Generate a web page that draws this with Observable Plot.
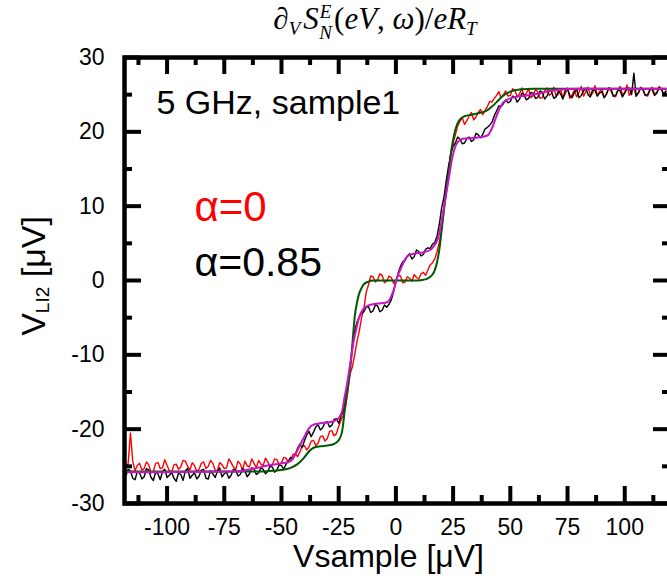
<!DOCTYPE html>
<html><head><meta charset="utf-8">
<script src="https://cdn.jsdelivr.net/npm/d3@7"></script>
<script src="https://cdn.jsdelivr.net/npm/@observablehq/plot@0.6"></script>
<style>
html,body{margin:0;padding:0;background:#fff;overflow:hidden}
#wrap{position:relative;width:667px;height:576px;overflow:hidden;background:#fff}
</style></head><body>
<div id="wrap"><div id="chart"></div></div>
<script>
// measured data (α=0 red, α=0.85 black), sampled Vsample [µV]
const vsample = [
 -118,-117,-116,-115,-114,-113,-112,-111,-110,-109,
 -108,-107,-106,-105,-104,-103,-102,-101,-100,-99,
 -98,-97,-96,-95,-94,-93,-92,-91,-90,-89,
 -88,-87,-86,-85,-84,-83,-82,-81,-80,-79,
 -78,-77,-76,-75,-74,-73,-72,-71,-70,-69,
 -68,-67,-66,-65,-64,-63,-62,-61,-60,-59,
 -58,-57,-56,-55,-54,-53,-52,-51,-50,-49,
 -48,-47,-46,-45,-44,-43,-42,-41,-40,-39,
 -38,-37,-36,-35,-34,-33,-32,-31,-30,-29,
 -28,-27,-26,-25,-24,-23,-22,-21,-20,-19,
 -18,-17,-16,-15,-14,-13,-12,-11,-10,-9,
 -8,-7,-6,-5,-4,-3,-2,-1,0,1,
 2,3,4,5,6,7,8,9,10,11,
 12,13,14,15,16,17,18,19,20,21,
 22,23,24,25,26,27,28,29,30,31,
 32,33,34,35,36,37,38,39,40,41,
 42,43,44,45,46,47,48,49,50,51,
 52,53,54,55,56,57,58,59,60,61,
 62,63,64,65,66,67,68,69,70,71,
 72,73,74,75,76,77,78,79,80,81,
 82,83,84,85,86,87,88,89,90,91,
 92,93,94,95,96,97,98,99,100,101,
 102,103,104,105,106,107,108,109,110,111,
 112,113,114,115,116,117,118];
const alpha0Data = [
 -25.4,-24.6,-20.5,-24.3,-25.6,-24.9,-24.6,-25.5,-25.3,-24.4,
 -24.8,-25.9,-25.7,-24.6,-24.5,-25.3,-25.2,-24.1,-24.9,-25.6,
 -25.8,-24.8,-24.7,-25.4,-25.1,-24.2,-24.3,-25.0,-25.5,-24.5,
 -24.9,-25.7,-25.4,-24.6,-24.4,-25.3,-25.0,-24.2,-24.6,-25.5,
 -25.6,-24.5,-24.8,-25.3,-25.2,-24.0,-24.5,-25.1,-25.4,-24.3,
 -24.7,-25.5,-24.3,-24.9,-25.1,-24.0,-24.6,-25.2,-24.2,-24.7,
 -24.9,-23.9,-24.4,-25.0,-24.8,-24.0,-24.1,-24.8,-24.5,-23.8,
 -23.9,-24.5,-24.2,-23.4,-23.3,-23.7,-23.1,-22.3,-22.2,-22.8,
 -22.4,-21.6,-21.5,-22.2,-21.9,-21.0,-20.9,-21.6,-21.3,-20.3,
 -20.2,-20.9,-20.6,-19.6,-18.8,-18.2,-17.0,-15.0,-12.5,-11.6,
 -10.0,-8.2,-6.8,-5.0,-3.8,-1.6,-0.6,0.6,0.5,-0.2,
 0.1,0.9,0.7,-0.3,-0.1,0.6,0.4,-0.4,0.0,0.7,
 0.6,-0.3,-0.2,0.5,0.3,-0.1,0.8,0.4,0.2,0.9,
 1.1,0.7,1.4,2.1,2.4,2.9,3.9,5.2,6.8,9.6,
 12.0,14.8,17.2,18.5,19.6,20.8,21.4,21.9,21.0,21.5,
 22.1,22.6,21.6,22.0,22.6,23.0,22.3,22.9,23.4,24.1,
 24.0,24.5,24.9,25.4,24.6,25.0,25.5,24.8,24.9,25.8,
 25.6,24.7,25.1,25.9,24.7,25.2,25.8,24.6,24.9,25.7,
 25.4,24.5,24.6,25.5,25.9,24.9,25.2,26.0,24.8,25.1,
 25.7,24.6,25.1,25.9,24.5,25.0,25.6,24.7,25.3,26.1,
 24.8,25.4,26.0,24.9,25.2,26.2,24.9,25.4,25.8,24.6,
 25.0,25.9,25.5,24.8,24.7,25.6,26.1,25.0,25.3,26.3,
 24.9,25.5,25.9,24.8,25.2,26.0,25.7,24.9,24.8,25.6,
 26.0,25.1,25.3,26.1,25.8,25.0,25.4];
const alpha085Data = [
 -26.3,-25.4,-25.6,-26.6,-26.8,-25.7,-25.9,-26.7,-26.4,-25.3,
 -25.5,-26.5,-26.9,-25.8,-26.0,-26.8,-25.7,-25.4,-26.5,-26.2,
 -25.8,-26.6,-27.0,-25.9,-26.1,-26.9,-25.6,-25.3,-26.6,-26.2,
 -25.9,-26.7,-26.3,-25.5,-25.4,-26.6,-26.7,-25.6,-26.0,-26.5,
 -25.7,-25.2,-26.4,-26.0,-25.8,-26.6,-26.2,-25.4,-25.5,-26.3,
 -26.1,-25.3,-25.6,-26.4,-26.0,-25.2,-25.3,-26.1,-25.9,-25.2,
 -25.4,-26.0,-25.7,-25.0,-25.1,-25.8,-25.5,-24.8,-24.9,-25.4,
 -24.7,-24.3,-23.8,-24.0,-23.4,-22.6,-22.0,-22.5,-21.6,-20.8,
 -20.3,-21.0,-20.4,-19.7,-19.4,-20.1,-19.8,-19.1,-19.0,-19.7,
 -19.5,-18.7,-18.6,-19.2,-18.3,-17.6,-16.0,-14.0,-11.5,-9.0,
 -6.8,-5.6,-4.9,-4.4,-4.2,-3.6,-3.5,-4.3,-4.1,-3.3,
 -3.4,-4.2,-4.0,-3.3,-3.6,-3.2,-2.6,-1.5,-0.2,1.0,
 1.9,2.5,2.7,3.3,3.6,2.9,3.2,4.1,3.9,3.3,
 3.5,4.2,4.4,4.3,4.9,5.1,6.0,7.6,9.8,11.2,
 13.4,15.4,17.0,18.1,18.5,19.3,19.0,18.4,18.5,19.1,
 19.3,18.7,18.9,19.8,19.6,19.2,19.7,20.4,20.6,20.9,
 21.3,22.2,22.8,23.5,23.4,23.8,24.3,23.9,24.1,24.8,
 24.7,24.0,24.4,25.2,25.0,24.3,24.5,25.3,25.2,24.5,
 24.6,25.5,25.3,24.4,24.8,25.6,25.4,24.5,24.7,25.5,
 25.1,24.4,25.6,25.8,24.9,24.6,25.3,25.7,24.6,24.9,
 25.5,25.9,25.0,24.7,25.7,25.6,24.8,25.2,25.4,24.6,
 25.1,25.9,25.8,24.8,24.9,25.6,25.5,24.7,25.2,25.8,
 25.9,25.0,27.9,24.8,25.3,25.9,25.6,24.9,25.0,25.7,
 25.7,24.9,25.2,25.9,25.8,25.0,25.5];
// theory curves
const theory0X = [-118,-60,-54,-50,-46,-43,-40,-38,-36,-33,-30,-27,-25,-23.5,-22,-21,-20,-19,-18,-17,-16,-15,-14,-12,-10,10,12,14,15,16,17,18,19,20,21,22,23,24,25,26,27.5,30,33,36,40,42,44,47,50,54,60,118];
const theory0Y = [-25.7,-25.7,-25.6,-25.5,-25.2,-24.7,-23.8,-23.0,-22.5,-22.3,-22.2,-22.0,-21.5,-20.3,-16.5,-14.3,-12.0,-8.5,-4.9,-3.0,-1.7,-1.0,-0.5,-0.15,0,0,0.1,0.3,0.5,0.8,1.4,2.5,4.2,6.8,9.5,12.0,14.2,17.0,18.9,20.3,21.5,22.1,22.3,22.5,22.9,23.4,24.0,24.9,25.4,25.7,25.8,25.8];
const theory085X = [-118,-70,-62,-56,-50,-46,-44,-42,-40,-38,-36,-33,-30,-27,-25,-23.5,-22.5,-21.5,-20.5,-19.5,-18.5,-17.5,-16.5,-15.2,-13.5,-12,-8,-4.5,-3,-2,-1,0,1,2,3,4.3,6,8,12,15,16.5,18.3,19.5,20.5,21.5,22.5,23.5,24.5,25.5,27,29.6,35,40,42,44.3,47,51,57,63,67,72,80,118];
const theory085Y = [-25.8,-25.7,-25.3,-24.9,-24.6,-24.3,-23.4,-22.2,-21.0,-19.9,-19.4,-19.2,-19.1,-18.9,-18.5,-17.6,-15.8,-14.2,-12.3,-10.3,-8.2,-6.8,-5.4,-4.3,-3.6,-3.35,-3.1,-3.0,-2.7,-2.1,-1.3,-0.2,0.8,1.5,2.2,3.0,3.45,3.6,3.8,4.1,4.6,5.6,7.2,9.0,10.8,12.6,14.5,16.3,17.6,18.6,19.1,19.2,19.5,20.5,22.4,24.0,24.6,24.9,25.2,25.5,25.7,25.8,25.8];
// ticks
const xMajor = [-100,-75,-50,-25,0,25,50,75,100];
const xMinor = [-112.5,-87.5,-62.5,-37.5,-12.5,12.5,37.5,62.5,87.5,112.5];
const yMajor = [-30,-20,-10,0,10,20,30];
const yMinor = [-25,-15,-5,5,15,25];

const red = vsample.map((x,i)=>({x, y: alpha0Data[i]}));
const blk = vsample.map((x,i)=>({x, y: alpha085Data[i]}));
const th0 = theory0X.map((x,i)=>({x, y: theory0Y[i]}));
const th85 = theory085X.map((x,i)=>({x, y: theory085Y[i]}));

const W = 671, H = 576, mL = 124, mR = 1, mT = 57, mB = 73;
const fw = W - mL - mR, fh = H - mT - mB;
const LMaj = 17, LMin = 8;
const sans = "'Liberation Sans', Arial, sans-serif";

const plot = Plot.plot({
  width: W, height: H,
  marginLeft: mL, marginRight: mR, marginTop: mT, marginBottom: mB,
  x: {domain: [-118.6, 120]},
  y: {domain: [-30, 30]},
  style: {fontFamily: sans, background: "white", color: "black", overflow: "visible", maxWidth: "none"},
  marks: [
    Plot.line(red, {x: "x", y: "y", stroke: "#ff0000", strokeWidth: 1.4}),
    Plot.line(blk, {x: "x", y: "y", stroke: "#000000", strokeWidth: 1.4}),
    Plot.line(th0, {x: "x", y: "y", stroke: "#005a00", strokeWidth: 2, curve: "monotone-x"}),
    Plot.line(th85, {x: "x", y: "y", stroke: "#c814c8", strokeWidth: 2, curve: "monotone-x"}),
    Plot.frame({stroke: "black", strokeWidth: 4.5}),
    Plot.tickX(xMajor, {x: d => d, insetTop: fh - LMaj, stroke: "black", strokeWidth: 4}),
    Plot.tickX(xMinor, {x: d => d, insetTop: fh - LMin, stroke: "black", strokeWidth: 4}),
    Plot.tickX(xMajor, {x: d => d, insetBottom: fh - LMaj, stroke: "black", strokeWidth: 4}),
    Plot.tickX(xMinor, {x: d => d, insetBottom: fh - LMin, stroke: "black", strokeWidth: 4}),
    Plot.tickY(yMajor, {y: d => d, insetRight: fw - LMaj, stroke: "black", strokeWidth: 4}),
    Plot.tickY(yMinor, {y: d => d, insetRight: fw - LMin, stroke: "black", strokeWidth: 4}),
    Plot.tickY(yMajor, {y: d => d, insetLeft: fw - LMaj, stroke: "black", strokeWidth: 4}),
    Plot.tickY(yMinor, {y: d => d, insetLeft: fw - LMin, stroke: "black", strokeWidth: 4}),
    Plot.axisX(xMajor, {anchor: "bottom", tickSize: 0, tickPadding: 15, fontSize: 23, label: null, tickFormat: d => String(d), fill: "black"}),
    Plot.axisY(yMajor, {anchor: "left", tickSize: 0, tickPadding: 20, fontSize: 23, label: null, tickFormat: d => String(d), fill: "black"}),
    Plot.text(["Vsample [μV]"], {frameAnchor: "bottom", dx: -9, dy: 63, lineAnchor: "bottom", fontSize: 32, fill: "black"}),
    Plot.text(["5 GHz, sample1"], {frameAnchor: "top-left", textAnchor: "start", lineAnchor: "bottom", dx: 32, dy: 56, fontSize: 34, fill: "black"}),
    Plot.text(["α=0"], {frameAnchor: "top-left", textAnchor: "start", lineAnchor: "bottom", dx: 70, dy: 163, fontSize: 42, fill: "#ff0000"}),
    Plot.text(["α=0.85"], {frameAnchor: "top-left", textAnchor: "start", lineAnchor: "bottom", dx: 70, dy: 218, fontSize: 41, fill: "black"})
  ]
});
document.getElementById("chart").appendChild(plot);

const svg = d3.select(plot);
// y axis label with subscript
const yl = svg.append("text")
  .attr("transform", "translate(45,276) rotate(-90)")
  .attr("text-anchor", "middle")
  .attr("font-family", sans).attr("font-size", 34).attr("fill", "black");
yl.append("tspan").text("V");
yl.append("tspan").attr("font-size", 19).attr("dy", 4).text("LI2");
yl.append("tspan").attr("dy", -4).text(" [μV]");

// title in math style
const serif = "'Liberation Serif', 'DejaVu Serif', serif";
const t = svg.append("text").attr("x", 375).attr("y", 29)
  .attr("text-anchor", "middle").style("text-anchor", "middle")
  .attr("font-family", serif).attr("font-size", 31).attr("fill", "black");
t.append("tspan").attr("font-style", "italic").text("∂");
t.append("tspan").attr("font-style", "italic").attr("font-size", 19).attr("dy", 6).text("V");
t.append("tspan").attr("font-style", "italic").attr("dy", -6).attr("dx", 3).text("S");
t.append("tspan").attr("font-style", "italic").attr("font-size", 19).attr("dy", -11).attr("dx", 1).text("E");
t.append("tspan").attr("font-style", "italic").attr("font-size", 19).attr("dx", -12).attr("dy", 21).text("N");
t.append("tspan").attr("dy", -10).attr("dx", 2).text("(");
t.append("tspan").attr("font-style", "italic").text("eV");
t.append("tspan").text(", ");
t.append("tspan").attr("font-style", "italic").text("ω");
t.append("tspan").text(")/");
t.append("tspan").attr("font-style", "italic").text("eR");
t.append("tspan").attr("font-style", "italic").attr("font-size", 19).attr("dy", 6).text("T");
</script>
</body></html>
